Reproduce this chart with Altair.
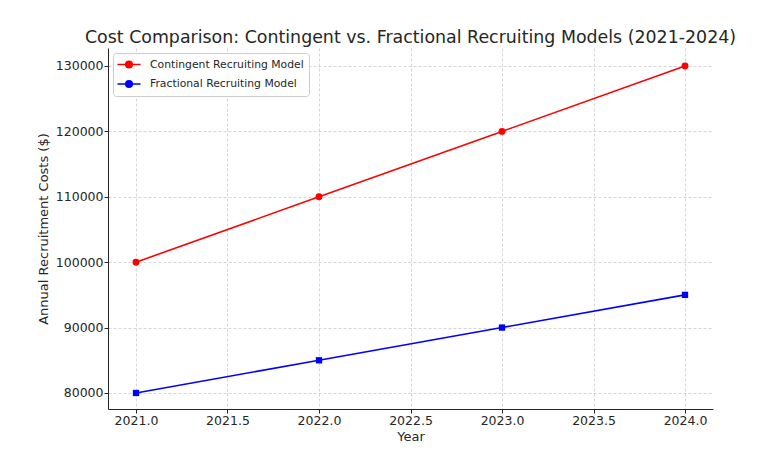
import altair as alt
import pandas as pd

years = [2021, 2022, 2023, 2024]
contingent = [100000, 110000, 120000, 130000]
fractional = [80000, 85000, 90000, 95000]
series_names = ["Contingent Recruiting Model", "Fractional Recruiting Model"]
series_colors = ["#ff0000", "#0000ff"]
x_ticks = [2021.0, 2021.5, 2022.0, 2022.5, 2023.0, 2023.5, 2024.0]
y_ticks = [80000, 90000, 100000, 110000, 120000, 130000]

rows = []
for y, v in zip(years, contingent):
    rows.append({"Year": y, "Cost": v, "Model": series_names[0]})
for y, v in zip(years, fractional):
    rows.append({"Year": y, "Cost": v, "Model": series_names[1]})
df = pd.DataFrame(rows)

FONT = "DejaVu Sans"
TXT = "#262626"

x_enc = alt.X("Year:Q",
              scale=alt.Scale(domain=[2020.847, 2024.153], nice=False, zero=False),
              axis=alt.Axis(values=x_ticks, format=".1f", title="Year"))
y_enc = alt.Y("Cost:Q",
              scale=alt.Scale(domain=[77550, 132750], nice=False, zero=False),
              axis=alt.Axis(values=y_ticks, format="d", title="Annual Recruitment Costs ($)"))
color_scale = alt.Scale(domain=series_names, range=series_colors)

# legend glyph: line segment with a marker drawn as concentric stroked rings
glyph = ("M-2.1,0L2.1,0 "
         "M0.6,0A0.6,0.6 0 1 1 -0.6,0A0.6,0.6 0 1 1 0.6,0 "
         "M0.36,0A0.36,0.36 0 1 1 -0.36,0A0.36,0.36 0 1 1 0.36,0 "
         "M0.12,0A0.12,0.12 0 1 1 -0.12,0A0.12,0.12 0 1 1 0.12,0")

legend = alt.Legend(
    title=None, orient="top-left", offset=5,
    fillColor="white", strokeColor="#cccccc", cornerRadius=3, padding=5,
    labelFont=FONT, labelFontSize=10.8, labelColor=TXT,
    symbolType=glyph, symbolSize=121, symbolStrokeWidth=1.5, symbolOffset=4.5,
    rowPadding=6.5, labelOffset=14.5,
)

lines = alt.Chart(df).mark_line(strokeWidth=1.6).encode(
    x=x_enc, y=y_enc,
    color=alt.Color("Model:N", scale=color_scale, legend=legend),
)
pts_c = alt.Chart(df).transform_filter(
    alt.datum.Model == series_names[0]
).mark_point(filled=True, opacity=1, size=48, shape="circle").encode(
    x=x_enc, y=y_enc,
    color=alt.Color("Model:N", scale=color_scale, legend=legend),
)
pts_f = alt.Chart(df).transform_filter(
    alt.datum.Model == series_names[1]
).mark_point(filled=True, opacity=1, size=40, shape="square").encode(
    x=x_enc, y=y_enc,
    color=alt.Color("Model:N", scale=color_scale, legend=legend),
)

chart = alt.layer(lines, pts_c, pts_f).properties(
    width=605, height=361,
    title=alt.Title("Cost Comparison: Contingent vs. Fractional Recruiting Models (2021-2024)",
                    font=FONT, fontSize=17.4, fontWeight="normal", color=TXT, anchor="middle", offset=2),
    autosize=alt.AutoSizeParams(type="none"),
    padding={"left": 100, "top": 40, "right": 40, "bottom": 40},
).configure_view(stroke=None).configure_axis(
    labelFont=FONT, labelFontSize=12.5, labelColor=TXT,
    titleFont=FONT, titleFontSize=13, titleFontWeight="normal", titleColor=TXT,
    domainColor="#262626", tickColor="#262626", tickSize=4, labelPadding=1,
    gridColor="#cccccc", gridDash=[3, 2], gridWidth=0.8,
).configure_axisX(titlePadding=4).configure_axisY(titlePadding=5)

chart.save("out.html", embed_options={"renderer": "svg", "actions": False})
